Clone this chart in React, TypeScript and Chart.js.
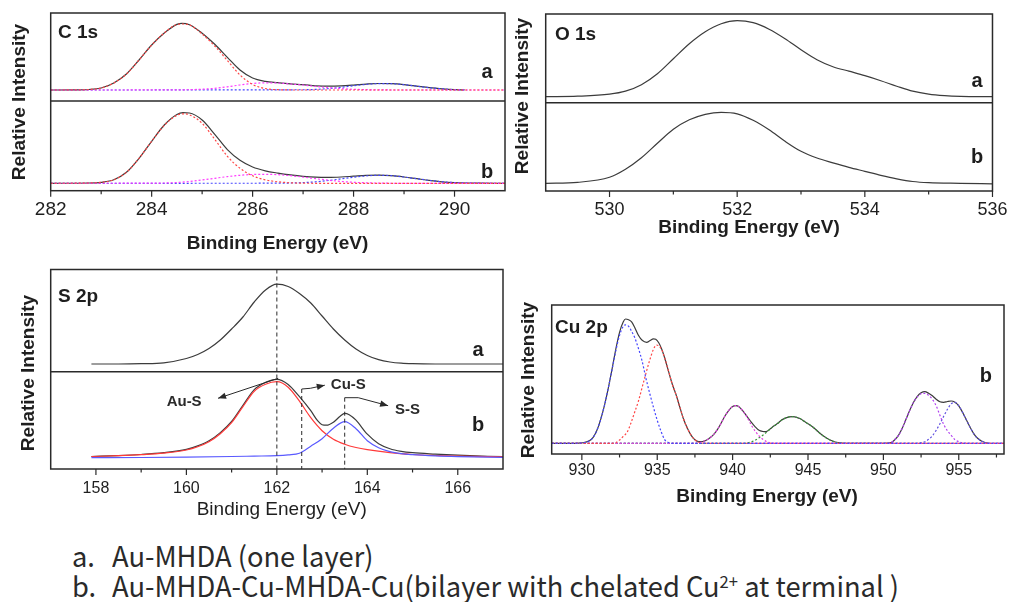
import React, { useEffect, useRef } from 'react';
import { Chart, registerables } from 'chart.js';

Chart.register(...registerables);

type Pt = [number, number];

// ---------------- C 1s (binding energy eV, intensity a.u.) ----------------
const c1sA_total: Pt[] = [[282,0],[282.5,0.1],[282.75,0.5],[283,2],[283.25,7],[283.5,16],[283.75,30],[284,45],[284.25,57],[284.5,65.6],[284.6,66.7],[284.75,65.3],[285,56.8],[285.25,45.7],[285.5,32.7],[285.75,20],[286,12],[286.25,8.7],[286.5,7.3],[286.75,6.1],[287,5.3],[287.25,4.2],[287.5,3.8],[287.75,4.1],[288,4.9],[288.25,5.9],[288.5,6.5],[288.75,6.3],[289,5.3],[289.25,3.8],[289.5,2.3],[289.75,1.2],[290,0.4],[290.2,0.1]];
const c1sA_red: Pt[] = [[282,0],[282.5,0.1],[282.75,0.5],[283,2],[283.25,7],[283.5,16],[283.75,30],[284,45],[284.25,57],[284.5,65.5],[284.6,66],[284.75,65],[285,56],[285.25,44],[285.5,29.5],[285.75,15],[286,5.5],[286.25,1.5],[286.5,0.3],[287,0],[291,0]];
const c1sA_pink: Pt[] = [[282,0],[284.5,0.1],[284.75,0.3],[285,0.8],[285.25,1.7],[285.5,3.2],[285.75,5],[286,6.5],[286.25,7.2],[286.5,7],[286.75,6],[287,5],[287.25,3.6],[287.5,2.4],[287.75,1.4],[288,0.7],[288.25,0.3],[288.5,0.1],[289,0],[291,0]];
const c1sA_blue: Pt[] = [[282,0],[287,0.25],[287.25,0.6],[287.5,1.4],[287.75,2.7],[288,4.2],[288.25,5.6],[288.5,6.4],[288.75,6.3],[289,5.3],[289.25,3.8],[289.5,2.3],[289.75,1.2],[290,0.4],[290.2,0.1]];

const c1sB_total: Pt[] = [[282,0],[282.75,0.3],[283,1],[283.25,3.5],[283.5,11],[283.75,25],[284,42],[284.25,58.3],[284.5,68.8],[284.62,70.6],[284.75,70.3],[285,63.3],[285.25,49],[285.5,33.7],[285.75,23],[286,16.3],[286.25,12.5],[286.5,10.2],[286.75,8.4],[287,7],[287.25,6.1],[287.5,5.9],[287.75,6.3],[288,7.1],[288.25,7.9],[288.5,8.2],[288.75,7.6],[289,6.3],[289.25,4.6],[289.5,2.9],[289.75,1.5],[290,0.7],[290.25,0.3],[290.5,0.1],[291,0]];
const c1sB_red: Pt[] = [[282,0],[282.75,0.3],[283,1],[283.25,3.5],[283.5,11],[283.75,25],[284,42],[284.25,58],[284.5,68],[284.62,69.5],[284.75,68.5],[285,60],[285.25,44],[285.5,27],[285.75,15],[286,7.5],[286.25,3.5],[286.5,1.5],[286.75,0.5],[287,0.1],[287.5,0],[291,0]];
const c1sB_pink: Pt[] = [[282,0],[284.25,0.3],[284.5,0.8],[284.75,1.8],[285,3.3],[285.25,5],[285.5,6.7],[285.75,8],[286,8.8],[286.25,9],[286.5,8.6],[286.75,7.6],[287,6.2],[287.25,4.6],[287.5,3.1],[287.75,1.9],[288,1],[288.25,0.5],[288.5,0.2],[289,0],[291,0]];
const c1sB_blue: Pt[] = [[282,0],[286.5,0.1],[286.75,0.3],[287,0.7],[287.25,1.5],[287.5,2.8],[287.75,4.4],[288,6.1],[288.25,7.4],[288.5,8],[288.75,7.6],[289,6.3],[289.25,4.6],[289.5,2.9],[289.75,1.5],[290,0.7],[290.25,0.3],[290.5,0.1],[291,0]];

// ---------------- O 1s ----------------
const o1sA_total: Pt[] = [[529,0],[529.5,0.5],[530,2.5],[530.25,5.5],[530.5,12],[530.75,23],[531,38],[531.25,53],[531.5,65],[531.75,73],[532,76],[532.25,74],[532.5,67.5],[532.75,58],[533,47],[533.25,37],[533.5,30],[533.75,25.5],[534,21],[534.25,16],[534.5,10.5],[534.75,5.5],[535,2.5],[535.25,1],[535.5,0.3],[536,0]];
const o1sB_total: Pt[] = [[529,0],[529.5,1],[530,6],[530.25,14],[530.5,25.5],[530.75,40],[531,54],[531.25,63.5],[531.5,69],[531.75,71],[532,69.5],[532.25,63],[532.5,53.5],[532.75,42],[533,32],[533.25,25.3],[533.5,20.5],[533.75,16],[534,12],[534.25,8],[534.5,4.5],[534.75,1.8],[535,0.6],[535.5,0],[536,-0.5]];

// ---------------- S 2p ----------------
const s2pA_total: Pt[] = [[157.9,0],[158.5,0],[159,0.3],[159.5,1.2],[160,5.5],[160.25,9.5],[160.5,15.5],[160.75,24],[161,35],[161.25,47],[161.5,62],[161.75,74],[162,79.8],[162.25,77.5],[162.5,70.5],[162.75,61],[163,48],[163.25,35],[163.5,24],[163.75,15],[164,8.5],[164.25,4.3],[164.5,2],[164.75,0.8],[165,0.3],[165.5,0],[167,0]];
const s2pB_total: Pt[] = [[157.9,1.2],[158.5,2.1],[159,3.2],[159.5,5],[160,8.3],[160.25,11.8],[160.5,16.9],[160.75,25.1],[161,36.2],[161.25,52.4],[161.5,68.1],[161.75,75.3],[162,78.4],[162.25,73.3],[162.5,61],[162.75,47],[162.9,37],[163,33],[163.1,32.5],[163.25,35.5],[163.4,41.5],[163.5,44.4],[163.6,43],[163.75,37.5],[164,23.5],[164.25,14],[164.5,9],[164.75,6.4],[165,5],[165.5,3.6],[166,2.5],[167,1]];
const s2pB_red: Pt[] = [[157.9,1.2],[158.5,2],[159,3],[159.5,4.6],[160,7.7],[160.25,11],[160.5,16],[160.75,24],[161,35],[161.25,51],[161.5,66.5],[161.75,73.5],[162,76],[162.25,70.5],[162.5,56.5],[162.75,40],[163,27],[163.25,18.5],[163.5,13.5],[163.75,10.2],[164,8],[164.5,5],[165,3.2],[165.5,2.2],[166,1.5],[167,0.8]];
const s2pB_blue: Pt[] = [[157.9,0],[159,0.2],[160,0.6],[161,1.2],[161.5,1.6],[162,2],[162.25,2.8],[162.5,4.5],[162.75,11.5],[163,19],[163.25,29.5],[163.5,36],[163.75,29],[164,17],[164.25,10],[164.5,6],[164.75,4],[165,3],[165.5,1.8],[166,1.1],[167,0.4]];
const s2pMarkerE = [162.0, 162.55, 163.5];
const s2pMarkerTop = [NaN, 68.7, 60];
const s2pArrows: Pt[][] = [
  [[162.03, 79.4], [160.7, 59.4]],
  [[162.55, 68.7], [162.74, 69.4], [163.06, 72.5]],
  [[163.5, 60], [163.8, 60], [164.46, 52]],
];
const s2pLabelText = ['Au-S', 'Cu-S', 'S-S'];
const s2pLabelPos: Pt[] = [[159.95, 52], [163.58, 68.5], [164.89, 43.5]];

// ---------------- Cu 2p ----------------
const cuTotal: Pt[] = [[928,0],[929.5,0],[930,0.4],[930.5,2.5],[930.75,6],[931,13],[931.25,24],[931.5,38],[931.75,55],[932,74],[932.25,94],[932.5,111],[932.75,121.5],[932.9,124.3],[933.1,123.5],[933.3,121.5],[933.5,116],[933.75,108],[934,103],[934.3,101],[934.5,102.5],[934.75,104.5],[934.9,104],[935.1,100.5],[935.3,94],[935.5,85],[935.75,72],[936,59],[936.25,48.5],[936.5,36],[936.75,24],[937,15],[937.25,8],[937.5,3.5],[937.75,1.8],[938,1.8],[938.25,3],[938.5,5.5],[938.75,9],[939,14],[939.25,20.5],[939.5,27.5],[939.75,33],[940,36.8],[940.2,37.6],[940.4,36.8],[940.75,31],[941,26],[941.25,21],[941.5,16.5],[941.75,13],[942,11.8],[942.2,11.6],[942.5,14.5],[942.75,17.5],[943,20],[943.25,23.3],[943.5,25.2],[943.75,26.4],[944,26.6],[944.25,26],[944.5,24.5],[944.75,22],[945,19.5],[945.25,17],[945.5,14],[945.75,10.5],[946,7.5],[946.25,5],[946.5,3],[946.75,1.5],[947,0.6],[947.5,0],[950,0],[950.5,0.6],[950.75,3.5],[951,8],[951.25,15],[951.5,24],[951.75,33],[952,41],[952.25,47],[952.5,50.5],[952.75,51.6],[953,50],[953.25,47.5],[953.5,44],[953.75,41.5],[954,41],[954.25,41.8],[954.5,42.3],[954.75,41],[955,37.5],[955.25,31],[955.5,23.5],[955.75,16],[956,9.5],[956.25,5],[956.5,2.3],[956.75,0.8],[957,0]];
const cuPeak1: Pt[] = [[928,0],[929.5,0],[930,0.4],[930.5,2.5],[930.75,6],[931,13],[931.25,24],[931.5,38],[931.75,55],[932,73.5],[932.25,92.5],[932.5,108],[932.75,117],[932.9,118.5],[933.1,117],[933.3,112],[933.5,106],[933.75,95],[934,82],[934.25,65],[934.5,50],[934.75,36],[935,23],[935.25,12],[935.5,3.5],[935.75,0.8],[936,0],[958,0]];
const cuPeak2: Pt[] = [[928,0],[932,0],[932.25,0.6],[932.5,3.3],[932.75,7],[933,11],[933.25,20],[933.5,31],[933.75,42],[934,56],[934.25,70],[934.5,83],[934.75,94],[934.95,98.3],[935.1,97.5],[935.3,93.5],[935.5,85],[935.75,72],[936,59],[936.25,48.5],[936.5,36],[936.75,24],[937,15],[937.25,8],[937.5,3.5],[937.75,1],[938,0.2],[938.5,0],[958,0]];
const cuPeak3: Pt[] = [[928,0],[937.5,0],[937.75,0.5],[938,1.5],[938.25,3],[938.5,5.5],[938.75,9],[939,14],[939.25,20.5],[939.5,27.5],[939.75,33],[940,36.8],[940.2,37.6],[940.4,36.8],[940.75,31],[941,25],[941.25,18],[941.5,12],[941.75,7.5],[942,4],[942.25,1.8],[942.5,0.5],[942.75,0],[958,0]];
const cuPeak4: Pt[] = [[928,0],[940.75,0],[941,0.6],[941.25,1.5],[941.5,3],[941.75,5.5],[942,8],[942.25,11],[942.5,14.5],[942.75,17.5],[943,20],[943.25,23.3],[943.5,25.2],[943.75,26.4],[944,26.6],[944.25,26],[944.5,24.5],[944.75,22],[945,19.5],[945.25,17],[945.5,14],[945.75,10.5],[946,7.5],[946.25,5],[946.5,3],[946.75,1.5],[947,0.6],[947.5,0],[958,0]];
const cuPeak5: Pt[] = [[928,0],[950.25,0],[950.5,0.6],[950.75,3.5],[951,8],[951.25,15],[951.5,24],[951.75,33],[952,41],[952.25,46.5],[952.5,49.5],[952.75,50],[953,48],[953.25,44],[953.5,37.5],[953.75,28],[954,19],[954.25,12.5],[954.5,8],[954.75,3.5],[955,1.6],[955.25,0.5],[955.5,0],[958,0]];
const cuPeak6: Pt[] = [[928,0],[952.25,0],[952.5,0.6],[952.75,1.6],[953,4],[953.25,7.5],[953.5,13],[953.75,19.5],[954,27],[954.25,34],[954.5,39.5],[954.75,41],[955,37.5],[955.25,31],[955.5,23.5],[955.75,16],[956,9.5],[956.25,5],[956.5,2.3],[956.75,0.8],[957,0],[958,0]];

// ---------------- axis ticks ----------------
const c1sMajor = [282, 284, 286, 288, 290];
const c1sMinor = [283, 285, 287, 289];
const o1sMajor = [530, 532, 534, 536];
const o1sMinor = [531, 533, 535];
const s2pMajor = [158, 160, 162, 164, 166];
const s2pMinor = [159, 161, 163, 165];
const cuMajor = [930, 935, 940, 945, 950, 955];
const cuMinor = [932.5, 937.5, 942.5, 947.5, 952.5, 957.5];

const FONT = "'Liberation Sans', Arial, Helvetica, sans-serif";
const INK = '#1e1e1e';
const BLACK_LINE = '#3c3c3c';

interface SeriesDef { pts: Pt[]; color: string; dash?: number[]; width?: number; axis: string }
interface TextDef { text: string; x: number; y: number; size: number; weight?: string; align?: CanvasTextAlign; rot?: boolean }
interface YAxisDef { id: string; min: number; max: number; weight: number }
interface PanelDef {
  left: number; top: number; w: number; h: number;
  area: { l: number; t: number; r: number; b: number };
  xMin: number; xMax: number; major: number[]; minor: number[];
  yAxes: YAxisDef[];
  series: SeriesDef[];
  tickSize: number; tickCY: number;
  texts: TextDef[];
  extra?: (chart: any) => void;
}

const dotted = [2, 2];

function drawArrowHead(ctx: CanvasRenderingContext2D, x0: number, y0: number, x1: number, y1: number) {
  const ang = Math.atan2(y1 - y0, x1 - x0);
  const len = 8, half = 3.2;
  ctx.beginPath();
  ctx.moveTo(x1, y1);
  ctx.lineTo(x1 - len * Math.cos(ang) + half * Math.sin(ang), y1 - len * Math.sin(ang) - half * Math.cos(ang));
  ctx.lineTo(x1 - len * Math.cos(ang) - half * Math.sin(ang), y1 - len * Math.sin(ang) + half * Math.cos(ang));
  ctx.closePath();
  ctx.fill();
}

function s2pExtra(chart: any) {
  const ctx: CanvasRenderingContext2D = chart.ctx;
  const xs = chart.scales.x, yb = chart.scales.yb;
  const a = chart.chartArea;
  ctx.save();
  ctx.strokeStyle = '#2a2a2a';
  ctx.fillStyle = '#2a2a2a';
  ctx.lineWidth = 1;
  ctx.setLineDash([4, 3]);
  s2pMarkerE.forEach((e, i) => {
    const px = xs.getPixelForValue(e);
    const top = isNaN(s2pMarkerTop[i]) ? a.top : yb.getPixelForValue(s2pMarkerTop[i]);
    ctx.beginPath(); ctx.moveTo(px, top); ctx.lineTo(px, a.bottom); ctx.stroke();
  });
  ctx.setLineDash([]);
  s2pArrows.forEach((path) => {
    const pts = path.map(([e, h]) => [xs.getPixelForValue(e), yb.getPixelForValue(h)]);
    ctx.beginPath();
    pts.forEach(([x, y], i) => (i ? ctx.lineTo(x, y) : ctx.moveTo(x, y)));
    ctx.stroke();
    const n = pts.length;
    drawArrowHead(ctx, pts[n - 2][0], pts[n - 2][1], pts[n - 1][0], pts[n - 1][1]);
  });
  ctx.font = `bold 15px ${FONT}`;
  ctx.textAlign = 'center';
  ctx.textBaseline = 'alphabetic';
  s2pLabelText.forEach((t, i) => {
    const [e, h] = s2pLabelPos[i];
    ctx.fillText(t, xs.getPixelForValue(e), yb.getPixelForValue(h));
  });
  ctx.restore();
}

function buildConfig(p: PanelDef): any {
  const areaL = p.area.l - p.left, areaT = p.area.t - p.top, areaR = p.area.r - p.left, areaB = p.area.b - p.top;
  const scales: any = {
    x: {
      type: 'linear', position: 'bottom', min: p.xMin, max: p.xMax,
      grid: { display: false, drawTicks: false }, border: { display: false },
      afterBuildTicks: (s: any) => { s.ticks = p.major.map((v) => ({ value: v })); },
      afterFit: (s: any) => { s.height = p.h - areaB; },
      ticks: { autoSkip: false, maxRotation: 0, color: INK, padding: (p.tickCY - p.top) - areaB - 0.6 * p.tickSize, font: { family: FONT, size: p.tickSize } },
      title: { display: false },
    },
  };
  p.yAxes.forEach((ax) => {
    scales[ax.id] = {
      type: 'linear', position: 'left', min: ax.min, max: ax.max, display: false,
      ...(p.yAxes.length > 1 ? { stack: 'spec', stackWeight: ax.weight, weight: ax.id === 'ya' ? 2 : 1 } : {}),
    };
  });
  const datasets = p.series.map((s) => ({
    type: 'line',
    data: s.pts.map(([x, y]) => ({ x, y })),
    xAxisID: 'x', yAxisID: s.axis,
    borderColor: s.color, borderWidth: s.width ?? 1.2, borderDash: s.dash ?? [],
    pointRadius: 0, fill: false, cubicInterpolationMode: 'monotone', tension: 0,
  }));
  const decor = {
    id: 'decor',
    afterDatasetsDraw(chart: any) {
      const ctx: CanvasRenderingContext2D = chart.ctx;
      const a = chart.chartArea;
      const xs = chart.scales.x;
      ctx.save();
      ctx.strokeStyle = '#2a2a2a';
      ctx.lineWidth = 1.5;
      ctx.setLineDash([]);
      ctx.strokeRect(a.left, a.top, a.right - a.left, a.bottom - a.top);
      if (p.yAxes.length > 1) {
        const yDiv = Math.min(...p.yAxes.map((ax) => chart.scales[ax.id].bottom));
        ctx.beginPath(); ctx.moveTo(a.left, yDiv); ctx.lineTo(a.right, yDiv); ctx.stroke();
      }
      ctx.lineWidth = 1.2;
      p.major.forEach((v) => { const px = xs.getPixelForValue(v); ctx.beginPath(); ctx.moveTo(px, a.bottom); ctx.lineTo(px, a.bottom + 6); ctx.stroke(); });
      p.minor.forEach((v) => { const px = xs.getPixelForValue(v); ctx.beginPath(); ctx.moveTo(px, a.bottom); ctx.lineTo(px, a.bottom + 3.5); ctx.stroke(); });
      ctx.fillStyle = INK;
      ctx.textBaseline = 'alphabetic';
      p.texts.forEach((t) => {
        ctx.font = `${t.weight ?? 'bold'} ${t.size}px ${FONT}`;
        ctx.textAlign = t.align ?? 'center';
        const x = t.x - p.left, y = t.y - p.top;
        if (t.rot) {
          ctx.save(); ctx.translate(x, y); ctx.rotate(-Math.PI / 2); ctx.textAlign = 'center'; ctx.fillText(t.text, 0, 0); ctx.restore();
        } else {
          ctx.fillText(t.text, x, y);
        }
      });
      ctx.restore();
      if (p.extra) p.extra(chart);
    },
  };
  return {
    type: 'line',
    data: { datasets },
    options: {
      animation: false, responsive: false, devicePixelRatio: 1, events: [],
      layout: { padding: { left: areaL, top: areaT, right: p.w - areaR, bottom: 0 } },
      plugins: { legend: { display: false }, tooltip: { enabled: false }, title: { display: false } },
      scales,
    },
    plugins: [decor],
  };
}

const RED = '#ff4646', PINK = '#ff3cff', BLUE = '#4646ff';

const panels: PanelDef[] = [
  {
    left: 0, top: 0, w: 510, h: 255,
    area: { l: 50.7, t: 13, r: 505, b: 190.7 },
    xMin: 282, xMax: 291, major: c1sMajor, minor: c1sMinor,
    yAxes: [{ id: 'ya', min: -11, max: 77, weight: 88 }, { id: 'yb', min: -7.4, max: 82.3, weight: 89.7 }],
    series: [
      { pts: c1sA_red, color: RED, dash: dotted, axis: 'ya' },
      { pts: c1sA_pink, color: PINK, dash: dotted, axis: 'ya' },
      { pts: c1sA_blue, color: BLUE, dash: dotted, axis: 'ya' },
      { pts: c1sA_total, color: BLACK_LINE, axis: 'ya' },
      { pts: c1sB_red, color: RED, dash: dotted, axis: 'yb' },
      { pts: c1sB_pink, color: PINK, dash: dotted, axis: 'yb' },
      { pts: c1sB_blue, color: BLUE, dash: dotted, axis: 'yb' },
      { pts: c1sB_total, color: BLACK_LINE, axis: 'yb' },
    ],
    tickSize: 19, tickCY: 210,
    texts: [
      { text: 'C 1s', x: 58, y: 38.3, size: 19, align: 'left' },
      { text: 'a', x: 487, y: 78.3, size: 20 },
      { text: 'b', x: 487, y: 178.3, size: 20 },
      { text: 'Binding Energy (eV)', x: 277.5, y: 249, size: 19 },
      { text: 'Relative Intensity', x: 24.5, y: 102, size: 19, rot: true },
    ],
  },
  {
    left: 505, top: 0, w: 511, h: 255,
    area: { l: 545.7, t: 14, r: 999, b: 191 },
    xMin: 529, xMax: 536, major: o1sMajor, minor: o1sMinor,
    yAxes: [{ id: 'ya', min: -6, max: 82.7, weight: 88.7 }, { id: 'yb', min: -7.7, max: 80.6, weight: 88.3 }],
    series: [
      { pts: o1sA_total, color: BLACK_LINE, axis: 'ya' },
      { pts: o1sB_total, color: BLACK_LINE, axis: 'yb' },
    ],
    tickSize: 18, tickCY: 210.3,
    texts: [
      { text: 'O 1s', x: 555, y: 40, size: 19, align: 'left' },
      { text: 'a', x: 977, y: 87.3, size: 20 },
      { text: 'b', x: 977, y: 163.3, size: 20 },
      { text: 'Binding Energy (eV)', x: 749, y: 232.5, size: 19 },
      { text: 'Relative Intensity', x: 528, y: 96, size: 19, rot: true },
    ],
  },
  {
    left: 0, top: 255, w: 510, h: 275,
    area: { l: 50.7, t: 269.5, r: 503, b: 469 },
    xMin: 157, xMax: 167, major: s2pMajor, minor: s2pMinor,
    yAxes: [{ id: 'ya', min: -7.7, max: 94.5, weight: 102.2 }, { id: 'yb', min: -11.3, max: 86, weight: 97.3 }],
    series: [
      { pts: s2pA_total, color: BLACK_LINE, axis: 'ya' },
      { pts: s2pB_blue, color: '#5a5aff', axis: 'yb' },
      { pts: s2pB_red, color: '#ff3a3a', axis: 'yb' },
      { pts: s2pB_total, color: BLACK_LINE, axis: 'yb' },
    ],
    tickSize: 16, tickCY: 489,
    texts: [
      { text: 'S 2p', x: 58, y: 301.5, size: 19, align: 'left' },
      { text: 'a', x: 478, y: 355.7, size: 20 },
      { text: 'b', x: 478, y: 431, size: 20 },
      { text: 'Binding Energy (eV)', x: 281.7, y: 515.3, size: 19, weight: 'normal' },
      { text: 'Relative Intensity', x: 34, y: 373, size: 19, rot: true },
    ],
    extra: s2pExtra,
  },
  {
    left: 505, top: 280, w: 511, h: 240,
    area: { l: 551.7, t: 305, r: 1004, b: 454 },
    xMin: 928, xMax: 958, major: cuMajor, minor: cuMinor,
    yAxes: [{ id: 'ya', min: -10.7, max: 138.3, weight: 1 }],
    series: [
      { pts: cuPeak1, color: BLUE, dash: dotted, axis: 'ya' },
      { pts: cuPeak2, color: RED, dash: dotted, axis: 'ya' },
      { pts: cuPeak3, color: '#e040e0', dash: dotted, axis: 'ya' },
      { pts: cuPeak4, color: '#3c963c', dash: dotted, axis: 'ya' },
      { pts: cuPeak5, color: '#b040f0', dash: dotted, axis: 'ya' },
      { pts: cuPeak6, color: '#6050e0', dash: dotted, axis: 'ya' },
      { pts: cuTotal, color: BLACK_LINE, axis: 'ya' },
    ],
    tickSize: 16, tickCY: 470.8,
    texts: [
      { text: 'Cu 2p', x: 555, y: 333, size: 19, align: 'left' },
      { text: 'b', x: 985.8, y: 381.7, size: 20 },
      { text: 'Binding Energy (eV)', x: 767, y: 502, size: 19 },
      { text: 'Relative Intensity', x: 534, y: 380, size: 19, rot: true },
    ],
  },
];

function Panel({ def }: { def: PanelDef }) {
  const ref = useRef<HTMLCanvasElement>(null);
  useEffect(() => {
    if (!ref.current) return;
    const chart = new Chart(ref.current, buildConfig(def));
    return () => chart.destroy();
  }, [def]);
  return (
    <canvas
      ref={ref}
      width={def.w}
      height={def.h}
      style={{ position: 'absolute', left: def.left, top: def.top, width: def.w, height: def.h }}
    />
  );
}

const captionA = 'Au-MHDA (one layer)';
const captionB1 = 'Au-MHDA-Cu-MHDA-Cu(bilayer with chelated Cu';
const captionB2 = ' at terminal )';

export default function App() {
  const capStyle: React.CSSProperties = {
    position: 'absolute', fontFamily: "'Noto Sans CJK KR', 'Noto Sans', sans-serif", fontSize: 28,
    lineHeight: '28px', color: '#2a2a2a', whiteSpace: 'nowrap', transformOrigin: '0 0', transform: 'scaleX(0.975)',
  };
  return (
    <div style={{ position: 'absolute', left: 0, top: 0, width: 1016, height: 602, background: '#fff', overflow: 'hidden' }}>
      {panels.map((p, i) => <Panel key={i} def={p} />)}
      <div style={{ ...capStyle, left: 72, top: 541 }}>a.</div>
      <div style={{ ...capStyle, left: 112, top: 541 }}>{captionA}</div>
      <div style={{ ...capStyle, left: 72, top: 571 }}>b.</div>
      <div style={{ ...capStyle, left: 112, top: 571 }}>{captionB1}<sup style={{ fontSize: 17, verticalAlign: 'top', lineHeight: '20px' }}>2+</sup>{captionB2}</div>
    </div>
  );
}
